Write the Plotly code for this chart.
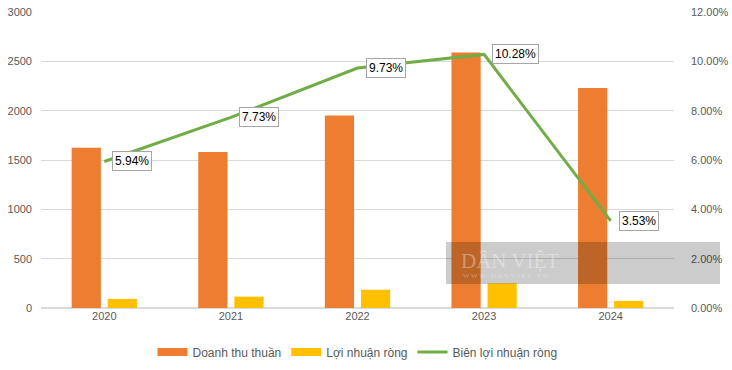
import plotly.graph_objects as go

years = ["2020", "2021", "2022", "2023", "2024"]
revenue = [1625, 1580, 1950, 2590, 2230]
net_profit = [92, 115, 185, 250, 72]
margin = [0.0594, 0.0773, 0.0973, 0.1028, 0.0353]
margin_labels = ["5.94%", "7.73%", "9.73%", "10.28%", "3.53%"]

FONT = "Liberation Sans"
ORANGE, YELLOW, GREEN = "#ED7D31", "#FFC000", "#70AD47"
fig = go.Figure()
fig.add_trace(go.Bar(x=years, y=revenue, name="Doanh thu thuần", showlegend=False,
                     marker=dict(color=ORANGE, line_width=0)))
fig.add_trace(go.Bar(x=years, y=net_profit, name="Lợi nhuận ròng", showlegend=False,
                     marker=dict(color=YELLOW, line_width=0)))
fig.add_trace(go.Scatter(x=years, y=margin, name="Biên lợi nhuận ròng", yaxis="y2",
                         mode="lines", line=dict(color=GREEN, width=3), showlegend=False))
# legend entries with wide swatches like the reference
for nm, col, w in [("Doanh thu thuần", ORANGE, 8), ("Lợi nhuận ròng", YELLOW, 8),
                   ("Biên lợi nhuận ròng", GREEN, 3)]:
    fig.add_trace(go.Scatter(x=[None], y=[None], name=nm, mode="lines",
                             line=dict(color=col, width=w), showlegend=True))

# data labels: category index positions on the category axis
for i, (m, lab) in enumerate(zip(margin, margin_labels)):
    fig.add_annotation(x=i, y=m, xref="x", yref="y2", text=lab, showarrow=False,
                       xanchor="left", yanchor="middle", xshift=8,
                       font=dict(family=FONT, size=12, color="#000000"),
                       bgcolor="#FFFFFF", bordercolor="#A6A6A6", borderwidth=1, borderpad=2)

# watermark
fig.add_shape(type="rect", xref="paper", yref="paper", x0=405/633, x1=679/633,
              y0=(308-284)/296, y1=(308-242)/296, fillcolor="rgba(0,0,0,0.2)", line_width=0, layer="above")
fig.add_annotation(xref="paper", yref="paper", x=(459-41)/633, y=(308-261)/296, text="DÂN VIỆT",
                   showarrow=False, xanchor="left", yanchor="middle",
                   font=dict(family="Liberation Serif", size=21, color="rgba(255,255,255,0.35)"))
fig.add_annotation(xref="paper", yref="paper", x=(461-41)/633, y=(308-276)/296, text="W W W . D A N V I E T . V N",
                   showarrow=False, xanchor="left", yanchor="middle",
                   font=dict(family="Liberation Serif", size=7, color="rgba(255,255,255,0.35)"))

fig.update_layout(
    width=732, height=370,
    margin=dict(l=41, r=58, t=12, b=62, autoexpand=False),
    paper_bgcolor="white", plot_bgcolor="white",
    barmode="group", bargap=0.43, bargroupgap=0.19,
    font=dict(family=FONT, size=11, color="#595959"),
    showlegend=True,
    legend=dict(orientation="h", x=0.5, xanchor="center", y=-0.1, yanchor="top",
                font=dict(family=FONT, size=12, color="#595959"), itemwidth=30,
                traceorder="normal"),
    xaxis=dict(type="category", range=[-0.5, 4.5], showgrid=False, showline=False, ticks="",
               automargin=False),
    yaxis=dict(range=[0, 3000], dtick=500, showgrid=True, gridcolor="#D9D9D9", gridwidth=1,
               zeroline=True, zerolinecolor="#D9D9D9", ticks="", ticklabelstandoff=8,
               automargin=False),
    yaxis2=dict(range=[0, 0.12], dtick=0.02, tickformat=".2%", overlaying="y", side="right",
                showgrid=False, zeroline=False, ticks="", ticklabelstandoff=16,
                automargin=False),
)
fig.write_html("out.html", config={"displayModeBar": False},
               post_script="document.body.style.margin='0';")
